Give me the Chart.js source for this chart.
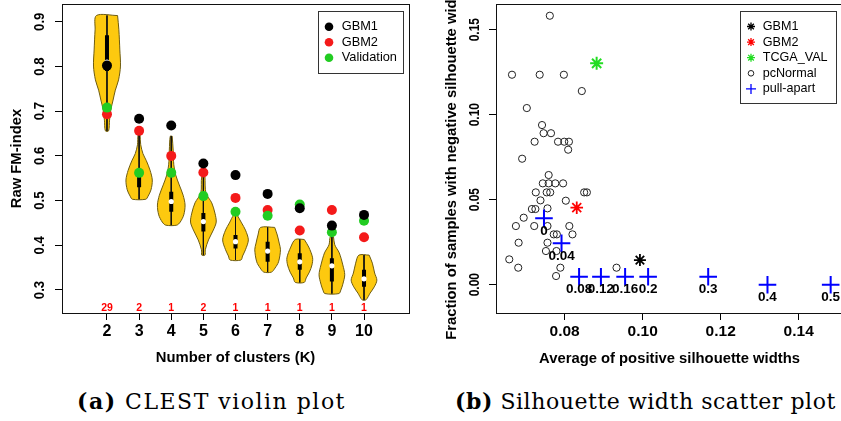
<!DOCTYPE html>
<html>
<head>
<meta charset="utf-8">
<title>CLEST violin plot and silhouette width scatter plot</title>
<script src="https://cdn.jsdelivr.net/npm/chart.js@4.4.1/dist/chart.umd.min.js"></script>
<style>
  html, body { margin: 0; padding: 0; background: #fff; overflow: hidden; }
  #page { position: relative; width: 841px; height: 421px; overflow: hidden; }
  canvas { position: absolute; top: 0; }
  #violinChart { left: 0; }
  #silChart { left: 420px; }
  .caption {
    position: absolute; top: 390px; line-height: 22px; white-space: nowrap;
    font-family: 'DejaVu Serif', 'Liberation Serif', serif; font-size: 22px; color: #000;
  }
  #capA { left: 77px; letter-spacing: 1.5px; }
  #capB { left: 455px; letter-spacing: 0.55px; }
</style>
</head>
<body>
<div id="page">
  <canvas id="violinChart" width="420" height="370"></canvas>
  <canvas id="silChart" width="440" height="370"></canvas>
  <div class="caption" id="capA"><b>(a)</b> CLEST violin plot</div>
  <div class="caption" id="capB"><b>(b)</b> Silhouette width scatter plot</div>
</div>
<script>
// (a) raw FM-index for K = 2..10
const kValues = [2, 3, 4, 5, 6, 7, 8, 9, 10];
const gbm1Fm = [0.802, 0.683, 0.668, 0.583, 0.557, 0.515, 0.483, 0.444, 0.468];
const gbm2Fm = [0.693, 0.656, 0.600, 0.563, 0.506, 0.479, 0.433, 0.479, 0.418];
const validationFm = [0.708, 0.562, 0.562, 0.510, 0.475, 0.466, 0.491, 0.429, 0.455];
const bestKCounts = [29, 2, 1, 2, 1, 1, 1, 1, 1];
const fmQ1 = [0.790, 0.530, 0.475, 0.431, 0.393, 0.363, 0.345, 0.319, 0.307];
const fmMedian = [0.810, 0.560, 0.498, 0.453, 0.408, 0.387, 0.363, 0.354, 0.325];
const fmQ3 = [0.870, 0.568, 0.520, 0.472, 0.423, 0.408, 0.382, 0.371, 0.345];
// violin outlines, top to bottom: FM-index level and half width (in K units)
const violinLevels = [
  [0.914, 0.882, 0.837, 0.801, 0.770, 0.747, 0.725, 0.703, 0.680, 0.656],
  [0.647, 0.625, 0.605, 0.590, 0.568, 0.546, 0.524, 0.510, 0.503],
  [0.644, 0.613, 0.580, 0.557, 0.535, 0.512, 0.490, 0.468, 0.452, 0.445],
  [0.553, 0.517, 0.495, 0.472, 0.452, 0.434, 0.412, 0.390, 0.378],
  [0.468, 0.450, 0.434, 0.412, 0.390, 0.376, 0.367],
  [0.440, 0.423, 0.405, 0.390, 0.363, 0.349, 0.340],
  [0.413, 0.396, 0.372, 0.356, 0.340, 0.327, 0.317],
  [0.419, 0.401, 0.383, 0.356, 0.334, 0.313, 0.300, 0.292],
  [0.378, 0.360, 0.338, 0.322, 0.307, 0.293, 0.278]
];
const violinHalfWidths = [
  [0.33, 0.37, 0.40, 0.42, 0.36, 0.26, 0.19, 0.12, 0.08, 0.05],
  [0.03, 0.05, 0.12, 0.22, 0.34, 0.41, 0.37, 0.28, 0.21],
  [0.03, 0.06, 0.08, 0.14, 0.25, 0.37, 0.43, 0.39, 0.28, 0.17],
  [0.05, 0.08, 0.26, 0.36, 0.40, 0.31, 0.16, 0.06, 0.05],
  [0.05, 0.19, 0.31, 0.40, 0.31, 0.22, 0.17],
  [0.22, 0.30, 0.36, 0.40, 0.34, 0.23, 0.12],
  [0.14, 0.28, 0.40, 0.38, 0.30, 0.20, 0.14],
  [0.05, 0.09, 0.23, 0.34, 0.40, 0.34, 0.28, 0.22],
  [0.16, 0.26, 0.33, 0.40, 0.32, 0.19, 0.06]
];
const fmTicks = [0.3, 0.4, 0.5, 0.6, 0.7, 0.8, 0.9];

// (b) average positive silhouette width vs fraction of negative widths
const cohortNames = ['GBM1', 'GBM2', 'TCGA_VAL'];
const cohortAvgSil = [0.0993, 0.0831, 0.0882];
const cohortNegFrac = [0.0145, 0.0453, 0.1302];
const pcNormalAvgSil = [
  0.0762, 0.0665, 0.0736, 0.0798, 0.0844, 0.0703, 0.0742, 0.0746, 0.0765, 0.0723,
  0.0783, 0.0799, 0.0811, 0.0809, 0.0691, 0.0759, 0.0744, 0.0759, 0.0776, 0.0796,
  0.0726, 0.0754, 0.0763, 0.0850, 0.0857, 0.0803, 0.0738, 0.0716, 0.0725, 0.0756,
  0.0695, 0.0675, 0.0722, 0.0756, 0.0812, 0.0772, 0.0780, 0.0820, 0.0682, 0.0756,
  0.0752, 0.0779, 0.0658, 0.0681, 0.0789, 0.0933, 0.0778
];
const pcNormalNegFrac = [
  0.1582, 0.1235, 0.1235, 0.1235, 0.1139, 0.1039, 0.0939, 0.0891, 0.0891, 0.0841,
  0.0841, 0.0841, 0.0841, 0.0794, 0.0741, 0.0645, 0.0596, 0.0596, 0.0596, 0.0596,
  0.0543, 0.0543, 0.0543, 0.0543, 0.0543, 0.0494, 0.0496, 0.0445, 0.0445, 0.0449,
  0.0394, 0.0345, 0.0345, 0.0345, 0.0345, 0.0296, 0.0296, 0.0296, 0.0247, 0.0247,
  0.0198, 0.0198, 0.0149, 0.0100, 0.0100, 0.0100, 0.0051
];
const pullApartLabels = ['0', '0.04', '0.08', '0.12', '0.16', '0.2', '0.3', '0.4', '0.5'];
const pullApartAvgSil = [0.0747, 0.0792, 0.0837, 0.0893, 0.0955, 0.1014, 0.1168, 0.1320, 0.1482];
const pullApartNegFrac = [0.0391, 0.0244, 0.0047, 0.0047, 0.0047, 0.0047, 0.0047, 0.0, 0.0];
const silTicks = [0.08, 0.10, 0.12, 0.14];
const fracTicks = [0, 0.05, 0.10, 0.15];

const sans = "'Liberation Sans', Arial, Helvetica, sans-serif";
Chart.defaults.font.family = sans;
Chart.defaults.color = '#000';

const toPoints = (xs, ys) => xs.map((x, i) => ({ x: x, y: ys[i] }));
const GAP = { x: null, y: null };

// closed outline per violin, separated by gaps so each one fills on its own
const violinOutline = [];
kValues.forEach((k, i) => {
  const ys = violinLevels[i], ws = violinHalfWidths[i];
  const right = ys.map((y, j) => ({ x: k + ws[j], y: y }));
  const left = ys.map((y, j) => ({ x: k - ws[j], y: y })).reverse();
  violinOutline.push(...right, ...left, right[0], GAP);
});
const whiskerSegs = [];
const iqrSegs = [];
kValues.forEach((k, i) => {
  const lv = violinLevels[i];
  whiskerSegs.push({ x: k, y: lv[0] }, { x: k, y: lv[lv.length - 1] }, GAP);
  iqrSegs.push({ x: k, y: fmQ3[i] }, { x: k, y: fmQ1[i] }, GAP);
});

// --- shared plugins ---
const plotBox = {
  id: 'plotBox',
  afterDraw(chart) {
    const { ctx, chartArea: a } = chart;
    ctx.save();
    ctx.strokeStyle = '#111';
    ctx.lineWidth = 1;
    ctx.strokeRect(Math.round(a.left) + 0.5, Math.round(a.top) + 0.5,
      Math.round(a.right - a.left), Math.round(a.bottom - a.top));
    ctx.restore();
  }
};

// R-style y axis: labels and title read bottom to top
const yAxisText = {
  id: 'yAxisText',
  afterDraw(chart, args, opts) {
    const { ctx, chartArea: a } = chart;
    const y = chart.scales.y;
    ctx.save();
    ctx.fillStyle = '#000';
    ctx.textAlign = 'center';
    ctx.textBaseline = 'middle';
    ctx.font = 'bold ' + opts.tickSize + 'px ' + sans;
    y.ticks.forEach(t => {
      ctx.save();
      ctx.translate(opts.tickX, y.getPixelForValue(t.value));
      ctx.rotate(-Math.PI / 2);
      ctx.scale(opts.tickStretch, 1);
      ctx.fillText(t.label, 0, 0);
      ctx.restore();
    });
    ctx.font = 'bold ' + opts.titleSize + 'px ' + sans;
    ctx.translate(opts.titleX, (a.top + a.bottom) / 2);
    ctx.rotate(-Math.PI / 2);
    ctx.fillText(opts.title, 0, 0);
    ctx.restore();
  }
};

const boxLegend = {
  id: 'boxLegend',
  afterDraw(chart, args, opts) {
    const { ctx, chartArea: a } = chart;
    const x0 = Math.round(a.right - opts.inset - opts.width);
    const y0 = Math.round(a.top + opts.inset);
    ctx.save();
    ctx.fillStyle = '#fff';
    ctx.fillRect(x0, y0, opts.width, opts.height);
    ctx.strokeStyle = '#333';
    ctx.lineWidth = 1;
    ctx.strokeRect(x0 + 0.5, y0 + 0.5, opts.width, opts.height);
    ctx.font = opts.fontSize + 'px ' + sans;
    ctx.textAlign = 'left';
    ctx.textBaseline = 'middle';
    opts.items.forEach((it, i) => {
      const cy = y0 + opts.firstRow + i * opts.rowHeight;
      const mx = x0 + opts.markerX;
      ctx.strokeStyle = it.color;
      ctx.lineWidth = it.lineWidth;
      if (it.style === 'ring') {
        ctx.beginPath();
        ctx.arc(mx, cy, it.radius, 0, Math.PI * 2);
        ctx.stroke();
      } else {
        ctx.fillStyle = it.fill || 'rgba(0,0,0,0)';
        Chart.helpers.drawPoint(ctx, { pointStyle: it.style, radius: it.radius, borderWidth: it.lineWidth, rotation: 0 }, mx, cy);
      }
      ctx.fillStyle = '#000';
      ctx.fillText(it.label, x0 + opts.textX, cy);
    });
    ctx.restore();
  }
};

// red counts of runs choosing each K, along the bottom of panel (a)
const countLabels = {
  id: 'countLabels',
  afterDatasetsDraw(chart) {
    const { ctx, chartArea: a, scales: { x } } = chart;
    ctx.save();
    ctx.fillStyle = '#f00';
    ctx.font = 'bold 10.5px ' + sans;
    ctx.textAlign = 'center';
    ctx.textBaseline = 'middle';
    kValues.forEach((k, i) => ctx.fillText(String(bestKCounts[i]), x.getPixelForValue(k), a.bottom - 5));
    ctx.restore();
  }
};

// pull-apart amounts written under each blue cross
const pullApartText = {
  id: 'pullApartText',
  afterDatasetsDraw(chart) {
    const { ctx } = chart;
    const meta = chart.getDatasetMeta(4);
    ctx.save();
    ctx.fillStyle = '#000';
    ctx.font = 'bold 13.5px ' + sans;
    ctx.textAlign = 'center';
    ctx.textBaseline = 'middle';
    meta.data.forEach((pt, i) => ctx.fillText(pullApartLabels[i], pt.x, pt.y + 13));
    ctx.restore();
  }
};

const tickGrid = { drawOnChartArea: false, drawTicks: true, tickLength: 7, color: '#000', lineWidth: 1 };
const titleFont = { family: sans, size: 14.8, weight: 'bold' };

// --- (a) violin plot ---
new Chart(document.getElementById('violinChart'), {
  type: 'scatter',
  data: {
    datasets: [
      { label: 'GBM1', data: toPoints(kValues, gbm1Fm), pointRadius: 5, backgroundColor: '#000', borderWidth: 0, order: 0 },
      { label: 'GBM2', data: toPoints(kValues, gbm2Fm), pointRadius: 5, backgroundColor: '#f41a1a', borderWidth: 0, order: 2 },
      { label: 'Validation', data: toPoints(kValues, validationFm), pointRadius: 5, backgroundColor: '#22cc22', borderWidth: 0, order: 1 },
      { label: 'median', data: toPoints(kValues, fmMedian), pointRadius: 2.6, backgroundColor: '#fff', borderWidth: 0, order: 3 },
      { label: 'iqr', data: iqrSegs, showLine: true, pointRadius: 0, borderColor: '#000', borderWidth: 4, borderCapStyle: 'butt', order: 4 },
      { label: 'whisker', data: whiskerSegs, showLine: true, pointRadius: 0, borderColor: '#111', borderWidth: 1, order: 5 },
      { label: 'violin', data: violinOutline, showLine: true, pointRadius: 0, fill: 'shape',
        backgroundColor: '#fdc90f', borderColor: '#6e5c10', borderWidth: 1, tension: 0.3, order: 6 }
    ]
  },
  options: {
    responsive: false,
    animation: false,
    events: [],
    layout: { autoPadding: false, padding: { left: 0, top: 4, right: 11, bottom: 0 } },
    plugins: {
      legend: { display: false },
      tooltip: { enabled: false },
      yAxisText: { tickX: 40, tickSize: 15, tickStretch: 0.88, titleX: 17, titleSize: 14.8, title: 'Raw FM-index' },
      boxLegend: {
        inset: 6.5, width: 85, height: 62, firstRow: 15.7, rowHeight: 15.5, markerX: 11, textX: 23.7, fontSize: 12.8,
        items: [
          { label: 'GBM1', style: 'circle', radius: 4.3, color: '#000', fill: '#000', lineWidth: 0 },
          { label: 'GBM2', style: 'circle', radius: 4.3, color: '#f41a1a', fill: '#f41a1a', lineWidth: 0 },
          { label: 'Validation', style: 'circle', radius: 4.3, color: '#22cc22', fill: '#22cc22', lineWidth: 0 }
        ]
      }
    },
    scales: {
      x: {
        type: 'linear', min: 0.6, max: 11.4,
        afterBuildTicks: s => { s.ticks = kValues.map(v => ({ value: v })); },
        afterFit: s => { s.height = 57; },
        ticks: { autoSkip: false, maxRotation: 0, padding: 2, color: '#000', font: { size: 16, weight: 'bold' }, callback: v => String(v) },
        grid: tickGrid,
        border: { display: false },
        title: { display: true, text: 'Number of clusters (K)', color: '#000', font: titleFont, padding: { top: 0, bottom: 3 } }
      },
      y: {
        type: 'linear', min: 0.2485, max: 0.9398,
        afterBuildTicks: s => { s.ticks = fmTicks.map(v => ({ value: v })); },
        afterFit: s => { s.width = 62; },
        ticks: { display: false, callback: v => v.toFixed(1) },
        grid: tickGrid,
        border: { display: false }
      }
    }
  },
  plugins: [plotBox, yAxisText, boxLegend, countLabels]
});

// --- (b) silhouette scatter ---
new Chart(document.getElementById('silChart'), {
  type: 'scatter',
  data: {
    datasets: [
      { label: cohortNames[0], data: [{ x: cohortAvgSil[0], y: cohortNegFrac[0] }], pointStyle: 'star', pointRadius: 6,
        borderColor: '#000', borderWidth: 1.8, order: 1 },
      { label: cohortNames[1], data: [{ x: cohortAvgSil[1], y: cohortNegFrac[1] }], pointStyle: 'star', pointRadius: 6.3,
        borderColor: '#ff0000', borderWidth: 1.8, order: 1 },
      { label: cohortNames[2], data: [{ x: cohortAvgSil[2], y: cohortNegFrac[2] }], pointStyle: 'star', pointRadius: 6.5,
        borderColor: '#22dd22', borderWidth: 2, order: 1 },
      { label: 'pcNormal', data: toPoints(pcNormalAvgSil, pcNormalNegFrac), pointStyle: 'circle', pointRadius: 3.6,
        backgroundColor: 'rgba(0,0,0,0)', borderColor: '#222', borderWidth: 1, order: 3 },
      { label: 'pull-apart', data: toPoints(pullApartAvgSil, pullApartNegFrac), pointStyle: 'cross', pointRadius: 8.8,
        borderColor: '#0000ff', borderWidth: 2, order: 0 }
    ]
  },
  options: {
    responsive: false,
    animation: false,
    events: [],
    layout: { autoPadding: false, padding: { left: 0, top: 4, right: 17, bottom: 0 } },
    plugins: {
      legend: { display: false },
      tooltip: { enabled: false },
      yAxisText: { tickX: 55, tickSize: 15, tickStretch: 0.8, titleX: 32, titleSize: 14.8,
        title: 'Fraction of samples with negative silhouette widths' },
      boxLegend: {
        inset: 6.7, width: 96, height: 92, firstRow: 15.5, rowHeight: 15.6, markerX: 11, textX: 22.7, fontSize: 12.6,
        items: [
          { label: cohortNames[0], style: 'star', radius: 4, color: '#000', lineWidth: 1.3 },
          { label: cohortNames[1], style: 'star', radius: 4, color: '#ff0000', lineWidth: 1.3 },
          { label: cohortNames[2], style: 'star', radius: 4, color: '#22dd22', lineWidth: 1.3 },
          { label: 'pcNormal', style: 'ring', radius: 2.8, color: '#222', lineWidth: 1 },
          { label: 'pull-apart', style: 'cross', radius: 5, color: '#0000ff', lineWidth: 1.3 }
        ]
      }
    },
    scales: {
      x: {
        type: 'linear', min: 0.0624, max: 0.15136,
        afterBuildTicks: s => { s.ticks = silTicks.map(v => ({ value: v })); },
        afterFit: s => { s.height = 57; },
        ticks: { autoSkip: false, maxRotation: 0, padding: 2, color: '#000', font: { size: 15.5, weight: 'bold' }, callback: v => v.toFixed(2) },
        grid: tickGrid,
        border: { display: false },
        title: { display: true, text: 'Average of positive silhouette widths', color: '#000', font: titleFont, padding: { top: 0, bottom: 2 } }
      },
      y: {
        type: 'linear', min: -0.01665, max: 0.1651,
        afterBuildTicks: s => { s.ticks = fracTicks.map(v => ({ value: v })); },
        afterFit: s => { s.width = 76; },
        ticks: { display: false, callback: v => v.toFixed(2) },
        grid: tickGrid,
        border: { display: false }
      }
    }
  },
  plugins: [plotBox, yAxisText, boxLegend, pullApartText]
});
</script>
</body>
</html>
